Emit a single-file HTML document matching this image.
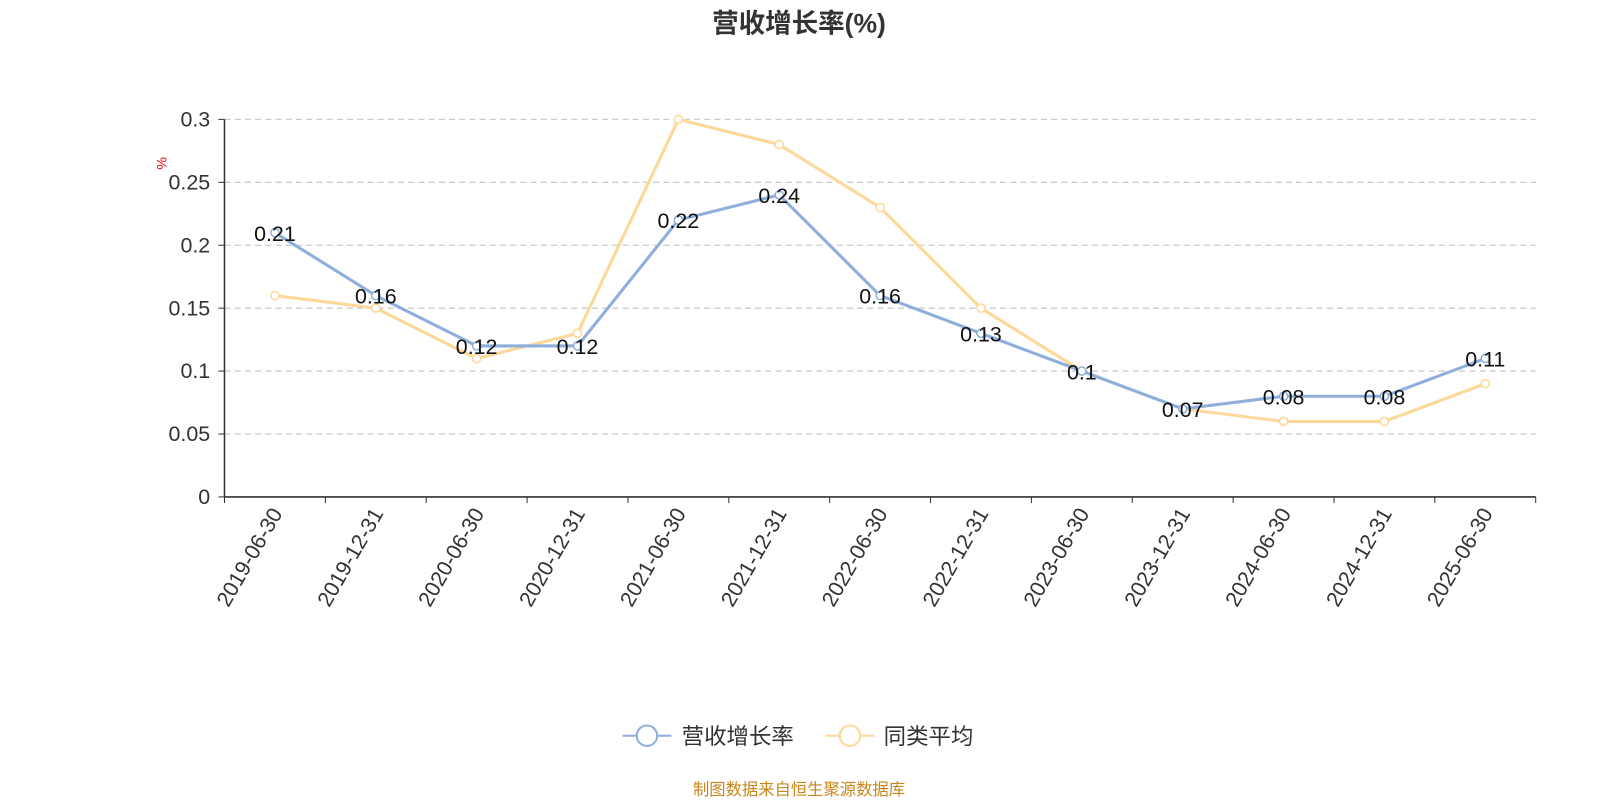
<!DOCTYPE html>
<html><head><meta charset="utf-8"><style>
body{margin:0;background:#fff;font-family:"Liberation Sans","Noto Sans CJK SC",sans-serif;}
svg text{font-family:"Liberation Sans","Noto Sans CJK SC",sans-serif;}
</style></head><body>
<svg id="chart" width="1600" height="800" viewBox="0 0 1568 784" preserveAspectRatio="none" xmlns="http://www.w3.org/2000/svg">
<text x="783" y="32" text-anchor="middle" font-size="26" font-weight="bold" fill="#333">营收增长率(%)</text>
<text x="163" y="160" font-size="14" fill="#e00" transform="rotate(-90 163 160)" text-anchor="middle">%</text>
<g id="grid"></g><g id="axes"></g><g id="series"></g>
<g>
<g>
<line x1="610" y1="721" x2="658" y2="721" stroke="#8eaedc" stroke-width="2"/><circle cx="634" cy="721" r="10" fill="#fff" stroke="#8eaedc" stroke-width="2"/>
<text x="668" y="729" font-size="22" fill="#333">营收增长率</text></g>
<g>
<line x1="809" y1="721" x2="857" y2="721" stroke="#fdd898" stroke-width="2"/><circle cx="833" cy="721" r="10" fill="#fff" stroke="#fdd898" stroke-width="2"/>
<text x="866" y="729" font-size="22" fill="#333">同类平均</text></g>
</g>
<text x="783" y="779" text-anchor="middle" font-size="16" fill="#c8861b">制图数据来自恒生聚源数据库</text>
</svg>
<script>
const categories=["2019-06-30","2019-12-31","2020-06-30","2020-12-31","2021-06-30","2021-12-31","2022-06-30","2022-12-31","2023-06-30","2023-12-31","2024-06-30","2024-12-31","2025-06-30"];
const revenueGrowth=[0.21,0.16,0.12,0.12,0.22,0.24,0.16,0.13,0.1,0.07,0.08,0.08,0.11];
const peerAverage=[0.16,0.15,0.11,0.13,0.3,0.28,0.23,0.15,0.1,0.07,0.06,0.06,0.09];
const yTicks=[0,0.05,0.1,0.15,0.2,0.25,0.3];
const yTickLabels=["0","0.05","0.1","0.15","0.2","0.25","0.3"];
const X0=220,X1=1505,Y0=487,Y1=117,YMAX=0.3;
const NS="http://www.w3.org/2000/svg";
const bw=(X1-X0)/categories.length;
const xc=i=>X0+bw*(i+0.5);
const y=v=>Y0-(v/YMAX)*(Y0-Y1);
function mk(tag,attrs,parent){const e=document.createElementNS(NS,tag);for(const k in attrs)e.setAttribute(k,attrs[k]);parent.appendChild(e);return e;}
const grid=document.getElementById('grid'),axes=document.getElementById('axes'),ser=document.getElementById('series');
yTicks.forEach((t,i)=>{
 if(t>0){const l=mk('line',{x1:X0,x2:X1,y1:y(t),y2:y(t),stroke:'#ccc','stroke-dasharray':'6,4','stroke-width':1.3},grid);
 
 }
 const tx=mk('text',{x:X0-14,y:y(t)+7,'text-anchor':'end','font-size':21,fill:'#333'},axes);
 tx.textContent=yTickLabels[i];
 
 
 const tk=mk('line',{x1:X0-6,x2:X0,y1:y(t),y2:y(t),stroke:'#333'},axes);
 
 
});
const ya=mk('line',{x1:X0,x2:X0,y1:Y1,y2:Y0,stroke:'#333','stroke-width':1.5},axes);


const xa=mk('line',{x1:X0,x2:X1,y1:Y0,y2:Y0,stroke:'#333','stroke-width':1.5},axes);


for(let i=0;i<=categories.length;i++){const tk=mk('line',{x1:X0+bw*i,x2:X0+bw*i,y1:Y0,y2:Y0+6,stroke:'#333'},axes);
 
 }
categories.forEach((c,i)=>{const x=xc(i)+8,yy=Y0+16;
 const t=mk('text',{x:x,y:yy,'text-anchor':'end','font-size':21,fill:'#333',transform:`rotate(-60 ${x} ${yy})`},axes);
 t.textContent=c;
 
 });
function drawSeries(vals,color,name){
 const p=mk('polyline',{points:vals.map((v,i)=>xc(i)+','+y(v)).join(' '),fill:'none',stroke:color,'stroke-width':3,'stroke-linejoin':'round'},ser);
 
 
 vals.forEach((v,i)=>{const c=mk('circle',{cx:xc(i),cy:y(v),r:4,fill:'#fff',stroke:color,'stroke-width':1.5},ser);
  
  });
}
drawSeries(peerAverage,'#fdd898','peer-average');
drawSeries(revenueGrowth,'#8eaedc','revenue-growth');
revenueGrowth.forEach((v,i)=>{const t=mk('text',{x:xc(i),y:y(v)+8,'text-anchor':'middle','font-size':21,fill:'#111'},ser);
 t.textContent=String(v);
 
 });
</script>
</body></html>
